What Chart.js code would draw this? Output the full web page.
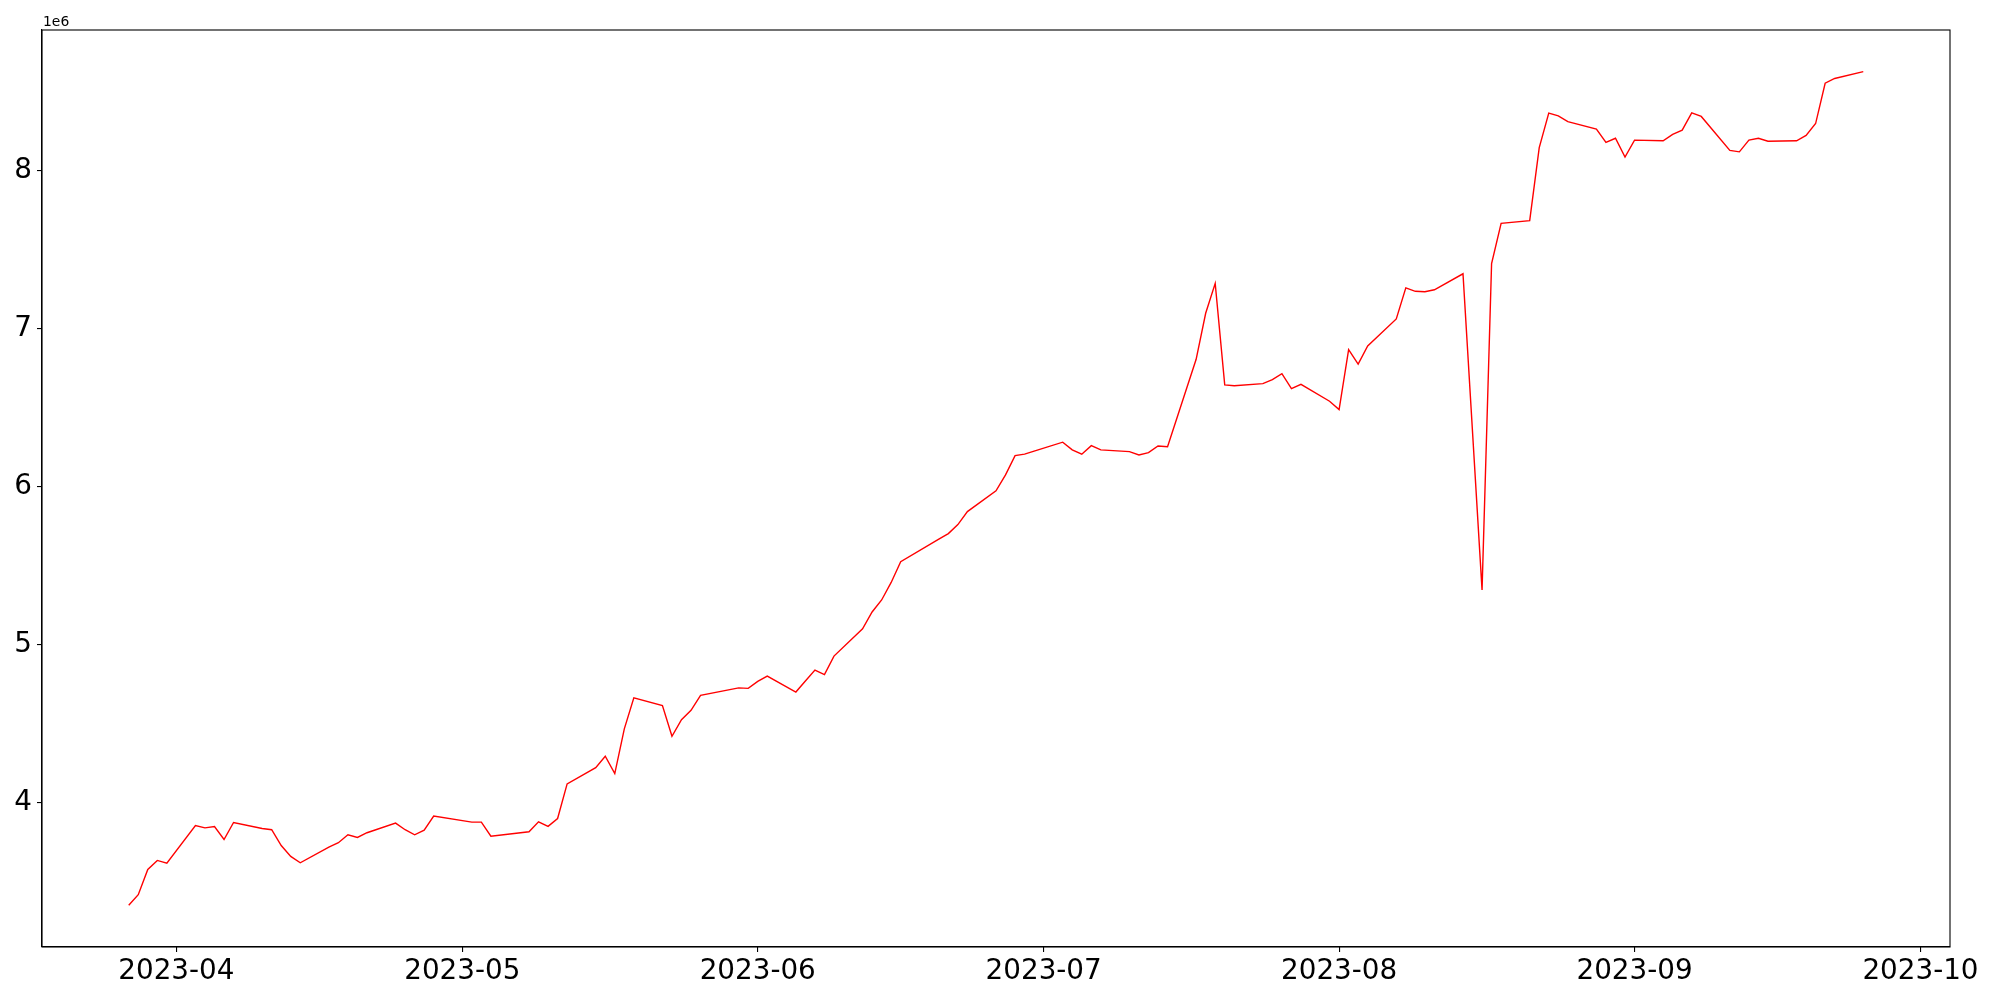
<!DOCTYPE html>
<html>
<head>
<meta charset="utf-8">
<style>
  html, body { margin: 0; padding: 0; background: #fff; }
  canvas { display: block; }
</style>
<script src="https://cdn.jsdelivr.net/npm/chart.js@4.4.0/dist/chart.umd.min.js"></script>
</head>
<body>
<canvas id="chart" width="2000" height="1000" style="width:2000px;height:1000px"></canvas>
<script>
// trading days
const dates = [
  '2023-03-27', '2023-03-28', '2023-03-29', '2023-03-30', '2023-03-31',
  '2023-04-03', '2023-04-04', '2023-04-05', '2023-04-06', '2023-04-07',
  '2023-04-10', '2023-04-11', '2023-04-12', '2023-04-13', '2023-04-14',
  '2023-04-17', '2023-04-18', '2023-04-19', '2023-04-20', '2023-04-21',
  '2023-04-24', '2023-04-25', '2023-04-26', '2023-04-27', '2023-04-28',
  '2023-05-02', '2023-05-03', '2023-05-04',
  '2023-05-08', '2023-05-09', '2023-05-10', '2023-05-11', '2023-05-12',
  '2023-05-15', '2023-05-16', '2023-05-17', '2023-05-18', '2023-05-19',
  '2023-05-22', '2023-05-23', '2023-05-24', '2023-05-25', '2023-05-26',
  '2023-05-30', '2023-05-31', '2023-06-01', '2023-06-02',
  '2023-06-05', '2023-06-06', '2023-06-07', '2023-06-08', '2023-06-09',
  '2023-06-12', '2023-06-13', '2023-06-14', '2023-06-15', '2023-06-16',
  '2023-06-20', '2023-06-21', '2023-06-22', '2023-06-23',
  '2023-06-26', '2023-06-27', '2023-06-28', '2023-06-29', '2023-06-30',
  '2023-07-03', '2023-07-04', '2023-07-05', '2023-07-06', '2023-07-07',
  '2023-07-10', '2023-07-11', '2023-07-12', '2023-07-13', '2023-07-14',
  '2023-07-17', '2023-07-18', '2023-07-19', '2023-07-20', '2023-07-21',
  '2023-07-24', '2023-07-25', '2023-07-26', '2023-07-27', '2023-07-28',
  '2023-07-31', '2023-08-01', '2023-08-02', '2023-08-03', '2023-08-04',
  '2023-08-07', '2023-08-08', '2023-08-09', '2023-08-10', '2023-08-11',
  '2023-08-14', '2023-08-16', '2023-08-17', '2023-08-18',
  '2023-08-21', '2023-08-22', '2023-08-23', '2023-08-24', '2023-08-25',
  '2023-08-28', '2023-08-29', '2023-08-30', '2023-08-31', '2023-09-01',
  '2023-09-04', '2023-09-05', '2023-09-06', '2023-09-07', '2023-09-08',
  '2023-09-11', '2023-09-12', '2023-09-13', '2023-09-14', '2023-09-15',
  '2023-09-18', '2023-09-19', '2023-09-20', '2023-09-21', '2023-09-22',
  '2023-09-25'
];

const values = [
  3353000, 3420000, 3580000, 3637000, 3620000,
  3858000, 3843000, 3851000, 3769000, 3877000,
  3839000, 3831000, 3731000, 3662000, 3622000,
  3721000, 3749000, 3799000, 3782000, 3812000,
  3873000, 3831000, 3799000, 3828000, 3917000,
  3879000, 3879000, 3790000,
  3818000, 3881000, 3852000, 3902000, 4121000,
  4224000, 4296000, 4186000, 4469000, 4665000,
  4616000, 4422000, 4527000, 4586000, 4681000,
  4728000, 4725000, 4769000, 4803000,
  4702000, 4772000, 4841000, 4812000, 4929000,
  5102000, 5208000, 5284000, 5395000, 5526000,
  5669000, 5704000, 5761000, 5843000,
  5974000, 6075000, 6197000, 6206000, 6225000,
  6282000, 6233000, 6206000, 6260000, 6233000,
  6222000, 6201000, 6216000, 6258000, 6253000,
  6806000, 7097000, 7286000, 6644000, 6639000,
  6652000, 6677000, 6715000, 6620000, 6648000,
  6541000, 6488000, 6867000, 6776000, 6890000,
  7061000, 7258000, 7236000, 7233000, 7246000,
  7347000, 5347000, 7412000, 7666000,
  7683000, 8145000, 8363000, 8346000, 8309000,
  8262000, 8178000, 8204000, 8085000, 8192000,
  8188000, 8229000, 8255000, 8365000, 8342000,
  8127000, 8118000, 8192000, 8204000, 8185000,
  8188000, 8222000, 8297000, 8552000, 8582000,
  8625000
];

const xTickDates = ['2023-04-01', '2023-05-01', '2023-06-01', '2023-07-01', '2023-08-01', '2023-09-01', '2023-10-01'];
const xTickLabels = ['2023-04', '2023-05', '2023-06', '2023-07', '2023-08', '2023-09', '2023-10'];
const yTicks = [4000000, 5000000, 6000000, 7000000, 8000000];
const offsetText = '1e6';

const DAY = 86400000;
const toDay = s => Date.parse(s) / DAY;

const xs = dates.map(toDay);
const points = xs.map((x, i) => ({ x: x, y: values[i] }));

// matplotlib style 5% margins
const xMinData = Math.min(...xs), xMaxData = Math.max(...xs);
const yMinData = Math.min(...values), yMaxData = Math.max(...values);
const xPad = (xMaxData - xMinData) * 0.05;
const yPad = (yMaxData - yMinData) * 0.05;

const FONT = "'DejaVu Sans', 'Liberation Sans', sans-serif";

// box around the plot + offset label
const framePlugin = {
  id: 'frame',
  afterDraw(chart) {
    const { ctx, chartArea: a } = chart;
    ctx.save();
    ctx.strokeStyle = '#000';
    ctx.lineWidth = 1.1;
    ctx.strokeRect(a.left, a.top, a.right - a.left, a.bottom - a.top);
    ctx.fillStyle = '#000';
    ctx.font = '13.9px ' + FONT;
    ctx.textAlign = 'left';
    ctx.textBaseline = 'alphabetic';
    ctx.fillText(offsetText, a.left + 1, a.top - 4);
    ctx.restore();
  }
};

new Chart(document.getElementById('chart'), {
  type: 'line',
  data: {
    datasets: [{
      data: points,
      borderColor: '#ff0000',
      borderWidth: 1.4,
      pointRadius: 0,
      tension: 0,
      fill: false
    }]
  },
  options: {
    responsive: false,
    animation: false,
    devicePixelRatio: 1,
    layout: { padding: { left: 0, right: 50, top: 30, bottom: 0 } },
    plugins: {
      legend: { display: false },
      tooltip: { enabled: false }
    },
    scales: {
      x: {
        type: 'linear',
        min: xMinData - xPad,
        max: xMaxData + xPad,
        afterBuildTicks: s => { s.ticks = xTickDates.map(d => ({ value: toDay(d) })); },
        afterFit: s => { s.height = 53; },
        ticks: {
          autoSkip: false,
          maxRotation: 0,
          padding: 3,
          color: '#000',
          font: { family: FONT, size: 27.8 },
          callback: (v, i) => xTickLabels[i]
        },
        grid: { drawOnChartArea: false, drawTicks: true, tickLength: 5, color: '#000', lineWidth: 1.1 },
        border: { color: '#000', width: 1.1 }
      },
      y: {
        type: 'linear',
        min: yMinData - yPad,
        max: yMaxData + yPad,
        afterBuildTicks: s => { s.ticks = yTicks.map(v => ({ value: v })); },
        afterFit: s => { s.width = 42; },
        ticks: {
          padding: 5,
          color: '#000',
          font: { family: FONT, size: 27.8 },
          callback: v => String(Math.round(v / 1e6))
        },
        grid: { drawOnChartArea: false, drawTicks: true, tickLength: 5, color: '#000', lineWidth: 1.1 },
        border: { color: '#000', width: 1.1 }
      }
    }
  },
  plugins: [framePlugin]
});
</script>
</body>
</html>
